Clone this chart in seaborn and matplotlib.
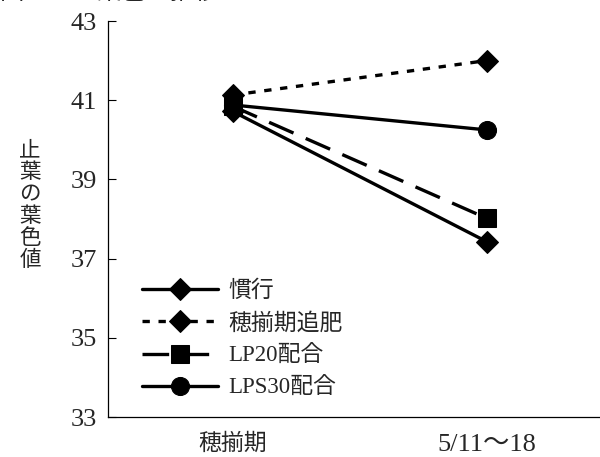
import matplotlib
matplotlib.use("Agg")
import matplotlib.pyplot as plt
import seaborn as sns
import pandas as pd

categories = ["穂揃期", "5/11〜18"]
series_names = ["慣行", "穂揃期追肥", "LP20配合", "LPS30配合"]
kanko = [40.72, 37.43]
tsuihi = [41.13, 42.0]
lp20 = [40.85, 38.02]
lps30 = [40.88, 40.25]
yticks = [33, 35, 37, 39, 41, 43]
ylabel = "止\n葉\nの\n葉\n色\n値"
title = "図　　　葉色の推移"

sns.set_theme(style="white")
plt.rcParams['font.family'] = ['Liberation Serif', 'Noto Sans CJK JP']

fig = plt.figure(figsize=(6.0, 4.57), dpi=100)
ax = fig.add_axes([108/600, 1 - 417/457, 1 - 108/600, (417 - 21)/457])

xpos = [0, 1]
styles = [
    dict(marker="D", markersize=11, linestyle="-"),
    dict(marker="D", markersize=11, linestyle=(0, (2.2, 2.6))),
    dict(marker="s", markersize=13, linestyle=(0, (8, 4))),
    dict(marker="o", markersize=13, linestyle="-"),
]
for name, vals, st in zip(series_names, [kanko, tsuihi, lp20, lps30], styles):
    df = pd.DataFrame({"x": xpos, "y": vals})
    sns.lineplot(data=df, x="x", y="y", ax=ax, color="black", linewidth=2.4,
                 markeredgecolor="black", markerfacecolor="black", label=name,
                 **st)

ax.set_xlim(-124/253, 1 + 113/253)
ax.set_ylim(33, 43)
ax.set_yticks(yticks)
ax.set_yticklabels([str(v) for v in yticks], fontsize=19)
ax.set_xticks(xpos)
ax.set_xticklabels(categories, fontsize=16.5)
ax.get_xticklabels()[1].set_fontsize(19)
ax.tick_params(axis="y", direction="in", length=6, width=0.8, color="black", pad=8, left=True)
ax.tick_params(axis="x", length=0, pad=12)
ax.set_xlabel("")
ax.set_ylabel("")
for s in ["top", "right"]:
    ax.spines[s].set_visible(False)
for s in ["left", "bottom"]:
    ax.spines[s].set_color("black")
    ax.spines[s].set_linewidth(0.9)

fig.text(30/600, 1 - 205/457, ylabel, fontsize=15.5, ha="center", va="center",
         linespacing=1.0, family=['Noto Sans CJK JP'])

fig.text(0/600, 1 - 5/457, title, fontsize=17.5, ha="left", va="bottom",
         family=['Noto Sans CJK JP'])

leg = ax.legend(loc="upper left", bbox_to_anchor=(25/490, 1 - (271 - 21)/396),
                frameon=False, fontsize=16.5, handlelength=3.3, handletextpad=0.44,
                labelspacing=0.48, borderaxespad=0)
for t in leg.get_texts():
    t.set_family(['Liberation Serif', 'Noto Sans CJK JP'])

fig.savefig("out.png", dpi=100, facecolor="white")
